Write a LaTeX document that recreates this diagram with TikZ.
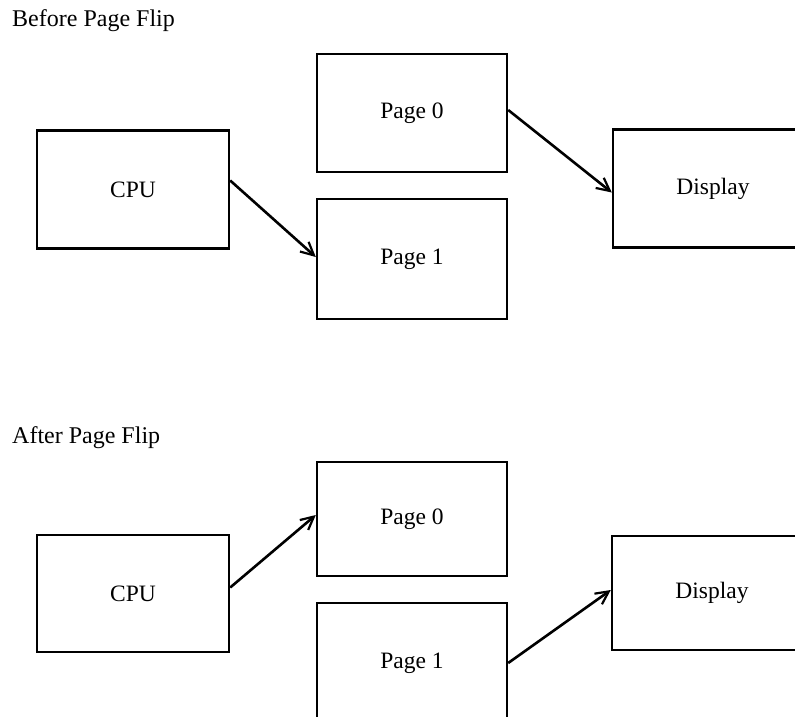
\documentclass[tikz,border=0pt]{standalone}
\usepackage{fontspec}
\setmainfont{Liberation Serif}
\usetikzlibrary{arrows.meta}

\tikzset{
  unit/.style={draw, line width=2.4pt, minimum width=192pt, minimum height=118pt,
    inner sep=0pt, font=\fontsize{23.5}{27}\selectfont},
  title/.style={anchor=base west, inner sep=0pt, font=\fontsize{24}{28}\selectfont},
  link/.style={line width=2.6pt, -{Straight Barb[length=13pt, width=13pt, line width=2.2pt]}}
}

\begin{document}
\begin{tikzpicture}[x=1pt, y=-1pt]
  \clip (0,0) rectangle (795,717);
  % before the flip
  \node[title] (before) at (12,27) {Before Page Flip};
  \node[unit] (cpuA) at (133,189.5) {CPU};
  \node[unit, minimum width=190pt] (pageA0) at (412,113) {Page 0};
  \node[unit, minimum width=190pt, minimum height=120pt] (pageA1) at (412,259) {Page 1};
  \node[unit, minimum width=200pt] (dispA) at (713,188.5) {Display};
  \draw[link] ([yshift=9pt]cpuA.east) -- ([yshift=2pt]pageA1.west);
  \draw[link] ([yshift=3pt]pageA0.east) -- ([yshift=-4pt]dispA.west);

  % after the flip
  \node[title] (after) at (12,443) {After Page Flip};
  \node[unit, minimum height=117pt] (cpuB) at (133,593.5) {CPU};
  \node[unit, minimum width=190pt, minimum height=114pt] (pageB0) at (412,519) {Page 0};
  \node[unit, minimum width=190pt, minimum height=120pt] (pageB1) at (412,663) {Page 1};
  \node[unit, minimum width=200pt, minimum height=114pt] (dispB) at (712,593) {Display};
  \draw[link] ([yshift=6pt]cpuB.east) -- ([yshift=4pt]pageB0.west);
  \draw[link] (pageB1.east) -- ([yshift=3pt]dispB.west);
\end{tikzpicture}
\end{document}
